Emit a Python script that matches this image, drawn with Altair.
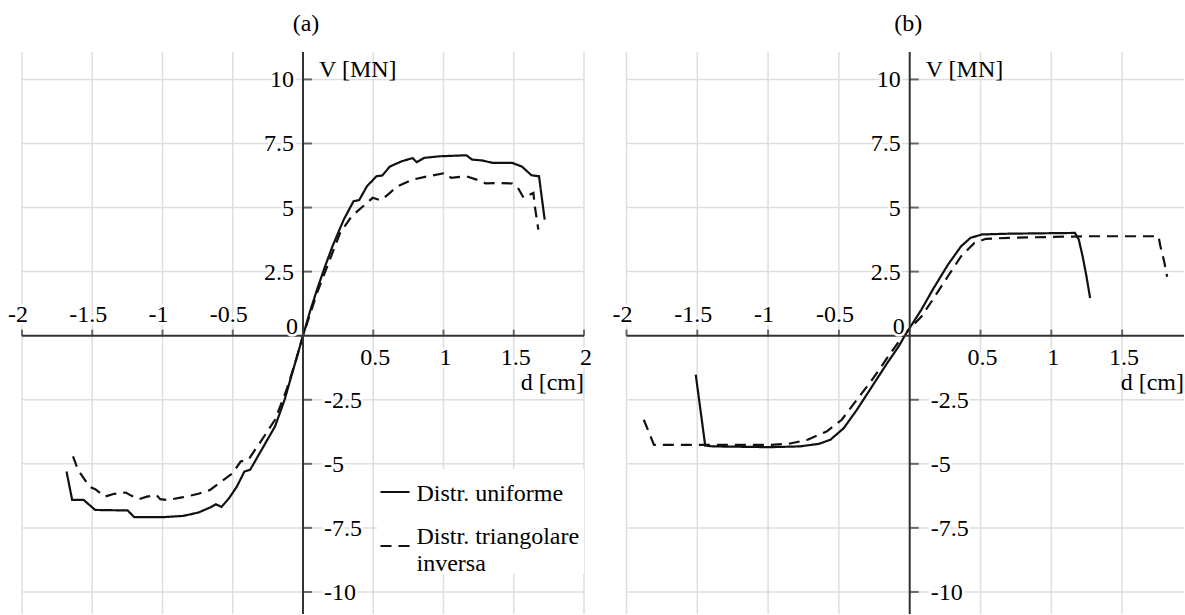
import altair as alt
import pandas as pd

FONT = "Liberation Serif, Times New Roman, Tinos, DejaVu Serif, serif"
FS = 24

# ---------------- data ----------------
# panel (a)
xa_uni = [-1.683, -1.643, -1.561, -1.479, -1.248, -1.201, -0.989, -0.85, -0.744, -0.66, -0.62, -0.58,
          -0.526, -0.471, -0.417, -0.376, -0.308, -0.199, -0.131, -0.063, 0.0, 0.05, 0.1, 0.15, 0.21,
          0.29, 0.36, 0.40, 0.455, 0.523, 0.564, 0.618, 0.70, 0.78, 0.81, 0.863, 0.972, 1.163, 1.204,
          1.272, 1.354, 1.49, 1.558, 1.626, 1.68, 1.72]
va_uni = [-5.30, -6.41, -6.41, -6.80, -6.82, -7.08, -7.08, -7.03, -6.90, -6.70, -6.58, -6.68,
          -6.34, -5.89, -5.30, -5.23, -4.58, -3.54, -2.50, -1.20, 0.0, 0.95, 1.80, 2.60, 3.49,
          4.53, 5.25, 5.29, 5.83, 6.22, 6.25, 6.60, 6.80, 6.93, 6.77, 6.94, 7.00, 7.04, 6.87,
          6.84, 6.74, 6.74, 6.60, 6.26, 6.22, 4.53]
xa_tri = [-1.637, -1.602, -1.52, -1.479, -1.411, -1.343, -1.261, -1.22, -1.166, -1.111, -1.043, -1.016,
          -0.962, -0.853, -0.744, -0.662, -0.58, -0.499, -0.444, -0.389, -0.308, -0.199, -0.117, -0.049,
          0.0, 0.1, 0.182, 0.264, 0.346, 0.428, 0.496, 0.55, 0.59, 0.673, 0.78, 0.89, 1.013, 1.054,
          1.163, 1.27, 1.30, 1.377, 1.49, 1.53, 1.57, 1.64, 1.65, 1.675]
va_tri = [-4.71, -5.23, -5.89, -5.99, -6.28, -6.17, -6.12, -6.25, -6.38, -6.28, -6.22, -6.38,
          -6.41, -6.30, -6.17, -6.02, -5.69, -5.36, -4.91, -4.84, -4.19, -3.28, -2.11, -0.94,
          0.0, 1.67, 2.84, 4.01, 4.66, 5.05, 5.38, 5.29, 5.44, 5.83, 6.09, 6.22, 6.35, 6.16,
          6.22, 6.03, 5.94, 5.96, 5.94, 5.77, 5.38, 5.57, 5.05, 4.14]
# panel (b)
xb_uni = [-1.511, -1.444, -1.391, -0.989, -0.775, -0.641, -0.56, -0.466, -0.373, -0.266, -0.159, -0.078,
          -0.035, 0.083, 0.163, 0.27, 0.363, 0.43, 0.511, 0.699, 1.167, 1.194, 1.221, 1.248, 1.274]
vb_uni = [-1.52, -4.29, -4.32, -4.35, -4.32, -4.22, -4.06, -3.61, -2.89, -1.98, -1.07, -0.42,
          0.0, 1.02, 1.80, 2.77, 3.49, 3.82, 3.95, 3.98, 4.01, 3.75, 3.10, 2.32, 1.47]
xb_tri = [-1.878, -1.806, -1.444, -0.989, -0.855, -0.721, -0.587, -0.48, -0.373, -0.266, -0.159, -0.052,
          0.083, 0.163, 0.27, 0.363, 0.457, 0.538, 0.699, 1.234, 1.757, 1.77, 1.797, 1.818]
vb_tri = [-3.28, -4.26, -4.26, -4.26, -4.22, -4.06, -3.74, -3.28, -2.50, -1.72, -0.87, -0.03,
          0.75, 1.41, 2.32, 3.10, 3.62, 3.78, 3.82, 3.88, 3.88, 3.50, 2.90, 2.30]

series_names = ["Distr. uniforme", "Distr. triangolare inversa"]
x_ticks = [-2, -1.5, -1, -0.5, 0.5, 1, 1.5, 2]
x_tick_labels = ["-2", "-1.5", "-1", "-0.5", "0.5", "1", "1.5", "2"]
y_ticks = [-10, -7.5, -5, -2.5, 2.5, 5, 7.5, 10]
y_tick_labels = ["-10", "-7.5", "-5", "-2.5", "2.5", "5", "7.5", "10"]
x_grid = [-2, -1.5, -1, -0.5, 0, 0.5, 1, 1.5, 2]
panel_titles = ["(a)", "(b)"]
axis_title_x = "d [cm]"
axis_title_y = "V [MN]"

Y_DOMAIN = [-10.86, 11.07]
HEIGHT = 562
GRID = "#dedede"
AX = "#333333"


def curves_df(x1, v1, x2, v2):
    rows = []
    for name, xs, vs in [(series_names[0], x1, v1), (series_names[1], x2, v2)]:
        for i, (x, v) in enumerate(zip(xs, vs)):
            rows.append({"serie": name, "i": i, "d": x, "V": v})
    return pd.DataFrame(rows)


def panel(title, df, xmax, width, legend):
    xs = alt.Scale(domain=[-2, xmax], nice=False, zero=False)
    ys = alt.Scale(domain=Y_DOMAIN, nice=False, zero=False)
    xE = lambda f: alt.X(f, scale=xs, axis=None)
    yE = lambda f: alt.Y(f, scale=ys, axis=None)

    gx = pd.DataFrame({"x": [v for v in x_grid if v <= xmax]})
    gy = pd.DataFrame({"y": y_ticks})
    gridx = alt.Chart(gx).mark_rule(color=GRID, strokeWidth=1.5).encode(
        x=xE("x:Q"), y=alt.value(0), y2=alt.value(HEIGHT))
    gridy = alt.Chart(gy).mark_rule(color=GRID, strokeWidth=1.5).encode(
        y=yE("y:Q"), x=alt.value(0), x2=alt.value(width))

    curves = alt.Chart(df).mark_line(strokeWidth=2.2, color="#111111").encode(
        x=xE("d:Q"),
        y=yE("V:Q"),
        strokeDash=alt.StrokeDash("serie:N", scale=alt.Scale(domain=series_names, range=[[1, 0], [11, 7]]),
                                  legend=None),
        detail="serie:N",
        order="i:Q",
    )

    one = pd.DataFrame({"v": [0]})
    xaxis = alt.Chart(one).mark_rule(color=AX, strokeWidth=2).encode(
        y=yE("v:Q"), x=alt.value(0), x2=alt.value(width))
    yaxis = alt.Chart(one).mark_rule(color=AX, strokeWidth=2).encode(
        x=xE("v:Q"), y=alt.value(0), y2=alt.value(HEIGHT))

    xt = pd.DataFrame({"x": x_ticks, "t": x_tick_labels, "y": 0})
    xt = xt[xt.x <= xmax]
    yt = pd.DataFrame({"y": y_ticks, "t": y_tick_labels, "x": 0})

    xticks = alt.Chart(xt).mark_tick(orient="vertical", size=6, thickness=2, color=AX, yOffset=-3).encode(
        x=xE("x:Q"), y=yE("y:Q"))
    yticks = alt.Chart(yt).mark_tick(orient="horizontal", size=9, thickness=2, color=AX, xOffset=4.5).encode(
        x=xE("x:Q"), y=yE("y:Q"))

    layers = [gridx, gridy]

    if legend:
        layers.append(alt.Chart(one).mark_rect(color="white").encode(
            x=alt.value(355), x2=alt.value(width), y=alt.value(417), y2=alt.value(522)))

    layers += [curves, xaxis, yaxis, xticks, yticks]

    def lab(data, **kw):
        out = []
        for halo in (True, False):
            extra = dict(stroke="white", strokeWidth=5, color="white") if halo else dict(color="black")
            out.append(alt.Chart(data).mark_text(font=FONT, fontSize=FS, **kw, **extra).encode(
                x=xE("x:Q"), y=yE("y:Q"), text="t:N"))
        return out

    layers += lab(xt[xt.x < 0], align="center", baseline="alphabetic", dx=-4, dy=-14)
    layers += lab(xt[xt.x > 0], align="center", baseline="alphabetic", dx=2, dy=29)
    layers += lab(yt[yt.y > 0], align="right", baseline="middle", dx=-9, dy=1)
    layers += lab(yt[yt.y < 0], align="left", baseline="middle", dx=21, dy=1)
    layers += lab(pd.DataFrame({"x": [0], "y": [0], "t": ["0"]}), align="right", baseline="alphabetic",
                  dx=-5, dy=-2)

    layers.append(alt.Chart(pd.DataFrame({"x": [0], "y": [10], "t": [axis_title_y]})).mark_text(
        font=FONT, fontSize=FS, align="left", baseline="alphabetic", dx=16, dy=-2, color="black").encode(
        x=xE("x:Q"), y=yE("y:Q"), text="t:N"))
    layers.append(alt.Chart(pd.DataFrame({"y": [0], "t": [axis_title_x]})).mark_text(
        font=FONT, fontSize=FS, align="right", baseline="alphabetic", dy=54, color="black").encode(
        x=alt.value(width), y=yE("y:Q"), text="t:N"))

    if legend:
        layers.append(alt.Chart(one).mark_rule(color="#111111", strokeWidth=2).encode(
            x=alt.value(358.5), x2=alt.value(387.5), y=alt.value(440)))
        layers.append(alt.Chart(one).mark_rule(color="#111111", strokeWidth=2, strokeDash=[11, 7]).encode(
            x=alt.value(358.5), x2=alt.value(387.5), y=alt.value(494)))
        for txt, yy in [("Distr. uniforme", 442), ("Distr. triangolare", 485), ("inversa", 512)]:
            layers.append(alt.Chart(one).mark_text(font=FONT, fontSize=FS, align="left", baseline="middle",
                                                  color="black").encode(
                x=alt.value(394.5), y=alt.value(yy), text=alt.value(txt)))

    return alt.layer(*layers).properties(
        width=width, height=HEIGHT,
        title=alt.TitleParams(title, font=FONT, fontSize=FS, fontWeight="normal", color="black",
                              anchor="middle", offset=15, dx=3),
    )


pa = panel(panel_titles[0], curves_df(xa_uni, va_uni, xa_tri, va_tri), 2.0, 562, True)
pb = panel(panel_titles[1], curves_df(xb_uni, vb_uni, xb_tri, vb_tri), 1.937, 557.5, False)

chart = alt.hconcat(pa, pb, spacing=20.5).properties(
    padding={"left": 8, "top": 12, "right": 0, "bottom": 0},
    background="white",
).configure_view(stroke=None)

chart.save("out.html", embed_options={"renderer": "svg", "actions": False})
